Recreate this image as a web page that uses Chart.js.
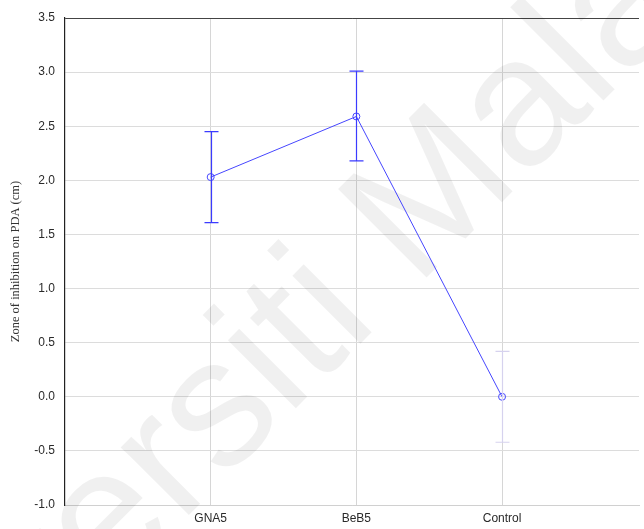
<!DOCTYPE html>
<html>
<head>
<meta charset="utf-8">
<script src="https://cdn.jsdelivr.net/npm/chart.js@4/dist/chart.umd.min.js"></script>
<style>
  html, body { margin: 0; padding: 0; background: #fff; }
  #wrap { width: 644px; height: 529px; }
</style>
</head>
<body>
<div id="wrap"><canvas id="zoneChart" width="644" height="529"></canvas></div>
<script>
const groups = ['GNA5', 'BeB5', 'Control'];
const means = [2.03, 2.59, 0.0];
const lower = [1.61, 2.18, -0.42];
const upper = [2.45, 3.01, 0.42];
const yTicks = [-1.0, -0.5, 0.0, 0.5, 1.0, 1.5, 2.0, 2.5, 3.0, 3.5];
const barColors = ['#3b3bff', '#3b3bff', '#d6d2ee'];

// faint diagonal watermark behind the marks
const watermark = {
  id: 'watermark',
  beforeDatasetsDraw(chart) {
    const ctx = chart.ctx;
    ctx.save();
    ctx.translate(416, 288);
    ctx.rotate(-45 * Math.PI / 180);
    ctx.font = '182px "Liberation Sans", Arial, sans-serif';
    ctx.fillStyle = 'rgba(0,0,0,0.06)';
    ctx.textBaseline = 'alphabetic';
    ctx.textAlign = 'right';
    ctx.fillText('Universiti ', 0, 0);
    ctx.textAlign = 'left';
    ctx.fillText('Malaya', 0, 0);
    ctx.restore();
  }
};

// vertical error bars with caps
const errorBars = {
  id: 'errorBars',
  afterDatasetsDraw(chart) {
    const ctx = chart.ctx;
    const xs = chart.scales.x, ys = chart.scales.y;
    ctx.save();
    ctx.lineWidth = 1.2;
    groups.forEach((g, i) => {
      const x = Math.round(xs.getPixelForValue(i + 1)) + 0.5;
      const yLo = ys.getPixelForValue(lower[i]);
      const yHi = ys.getPixelForValue(upper[i]);
      ctx.strokeStyle = barColors[i];
      ctx.beginPath();
      ctx.moveTo(x, yLo); ctx.lineTo(x, yHi);
      ctx.moveTo(x - 7, yLo); ctx.lineTo(x + 7, yLo);
      ctx.moveTo(x - 7, yHi); ctx.lineTo(x + 7, yHi);
      ctx.stroke();
    });
    ctx.restore();
  }
};

new Chart(document.getElementById('zoneChart'), {
  type: 'line',
  data: {
    datasets: [{
      data: means.map((m, i) => ({ x: i + 1, y: m })),
      borderColor: '#4646ff',
      borderWidth: 1,
      pointRadius: 3.5,
      pointBorderWidth: 1,
      pointBorderColor: '#4646ff',
      pointBackgroundColor: 'rgba(255,255,255,0)',
      tension: 0
    }]
  },
  options: {
    responsive: false,
    animation: false,
    layout: { padding: { top: 18, right: 0, left: 0, bottom: 0 } },
    plugins: { legend: { display: false }, tooltip: { enabled: false } },
    scales: {
      x: {
        type: 'linear',
        min: 0,
        max: 3.94,
        afterBuildTicks: s => { s.ticks = [1, 2, 3].map(v => ({ value: v })); },
        afterFit: s => { s.height = 24; },
        ticks: {
          callback: v => groups[v - 1] || '',
          color: '#2a2a2a',
          font: { family: '"Liberation Sans", Arial, sans-serif', size: 12 },
          padding: 6,
          maxRotation: 0
        },
        grid: { color: '#d6d6d6', drawTicks: false },
        border: { color: '#d0d0d0', width: 1 }
      },
      y: {
        min: -1.0,
        max: 3.5,
        afterBuildTicks: s => { s.ticks = yTicks.map(v => ({ value: v })); },
        afterFit: s => { s.width = 65; },
        ticks: {
          callback: v => v.toFixed(1),
          color: '#2a2a2a',
          font: { family: '"Liberation Sans", Arial, sans-serif', size: 12 },
          padding: 10
        },
        grid: {
          color: c => c.tick && c.tick.value === 3.5 ? '#444' : '#dcdcdc',
          drawTicks: false
        },
        border: { color: '#222', width: 1.2 },
        title: {
          display: true,
          text: 'Zone of inhibition on PDA (cm)',
          color: '#333',
          font: { family: '"Liberation Serif", "Times New Roman", serif', size: 12.5 },
          padding: { top: 8, bottom: 0 }
        }
      }
    }
  },
  plugins: [watermark, errorBars]
});
</script>
</body>
</html>
